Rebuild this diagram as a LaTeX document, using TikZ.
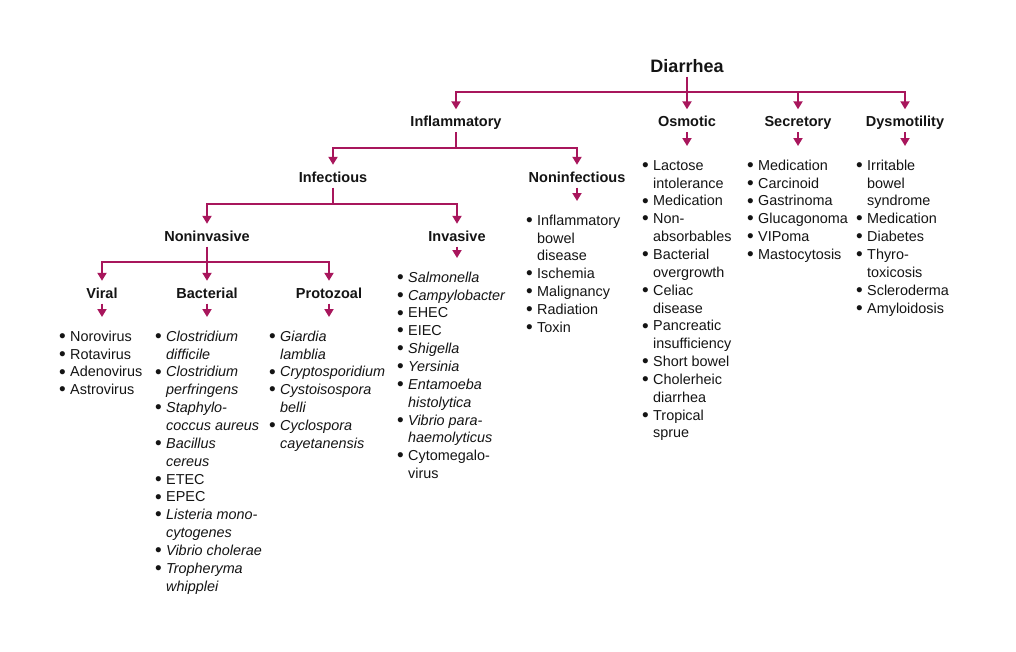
\documentclass[tikz,border=0pt]{standalone}
\usepackage{fontspec}
\setmainfont{Liberation Sans}
\usetikzlibrary{arrows.meta}
\definecolor{mag}{RGB}{168,22,92}
\definecolor{txt}{RGB}{20,20,20}
\newcommand\bl{\makebox[11pt][l]{\raisebox{-1.2pt}{\fontsize{19}{19}\selectfont\textbullet}}}
\newcommand\cl{\hspace*{11pt}}
\tikzset{
  ln/.style={draw=mag, line width=1.9pt},
  arr/.style={ln, -{Triangle[width=9pt,length=8pt]}},
  busarr/.style={arr, shorten >=6.5pt},
  listarr/.style={arr, shorten <=5.5pt, shorten >=12pt},
  up/.style={ln, shorten <=5.5pt},
  head/.style={font=\bfseries\fontsize{14.5}{17}\selectfont, text=txt, inner sep=0pt, text height=10.5pt, text depth=0pt, anchor=base},
  lst/.style={font=\fontsize{14.4}{17.85}\selectfont, text=txt, inner sep=0pt, align=left, anchor=north west}
}
\begin{document}
\begin{tikzpicture}[x=1pt,y=-1pt]
\fill[white] (0,0) rectangle (1016,651);
\useasboundingbox (0,0) rectangle (1016,651);

% headings
\node[head, font=\bfseries\fontsize{18}{21}\selectfont, text height=13pt] (dia) at (687,72.5) {Diarrhea};
\node[head] (infl) at (456,126.5) {Inflammatory};
\node[head] (osm) at (687,126.5) {Osmotic};
\node[head] (sec) at (798,126.5) {Secretory};
\node[head] (dys) at (905,126.5) {Dysmotility};
\node[head] (inf) at (333,182) {Infectious};
\node[head] (ninf) at (577,182) {Noninfectious};
\node[head] (ninv) at (207,241) {Noninvasive};
\node[head] (inv) at (457,241) {Invasive};
\node[head] (vir) at (102,298) {Viral};
\node[head] (bac) at (207,298) {Bacterial};
\node[head] (pro) at (329,298) {Protozoal};

% bus junctions
\coordinate (j0) at (687,92);
\coordinate (j1) at (456,148);
\coordinate (j2) at (333,204);
\coordinate (j3) at (207,262);

% lists
\node[lst] (osmL) at (642,158) {\rule{0pt}{12pt}\bl Lactose\\ \cl intolerance\\ \bl Medication\\ \bl Non-\\ \cl absorbables\\ \bl Bacterial\\ \cl overgrowth\\ \bl Celiac\\ \cl disease\\ \bl Pancreatic\\ \cl insufficiency\\ \bl Short bowel\\ \bl Cholerheic\\ \cl diarrhea\\ \bl Tropical\\ \cl sprue};
\node[lst] (secL) at (747,158) {\rule{0pt}{12pt}\bl Medication\\ \bl Carcinoid\\ \bl Gastrinoma\\ \bl Glucagonoma\\ \bl VIPoma\\ \bl Mastocytosis};
\node[lst] (dysL) at (856,158) {\rule{0pt}{12pt}\bl Irritable\\ \cl bowel\\ \cl syndrome\\ \bl Medication\\ \bl Diabetes\\ \bl Thyro-\\ \cl toxicosis\\ \bl Scleroderma\\ \bl Amyloidosis};
\node[lst] (ninfL) at (526,213) {\rule{0pt}{12pt}\bl Inflammatory\\ \cl bowel\\ \cl disease\\ \bl Ischemia\\ \bl Malignancy\\ \bl Radiation\\ \bl Toxin};
\node[lst] (invL) at (397,270) {\rule{0pt}{12pt}\bl \textit{Salmonella}\\ \bl \textit{Campylobacter}\\ \bl EHEC\\ \bl EIEC\\ \bl \textit{Shigella}\\ \bl \textit{Yersinia}\\ \bl \textit{Entamoeba}\\ \cl \textit{histolytica}\\ \bl \textit{Vibrio para-}\\ \cl \textit{haemolyticus}\\ \bl Cytomegalo-\\ \cl virus};
\node[lst] (virL) at (59,329) {\rule{0pt}{12pt}\bl Norovirus\\ \bl Rotavirus\\ \bl Adenovirus\\ \bl Astrovirus};
\node[lst] (bacL) at (155,329) {\rule{0pt}{12pt}\bl \textit{Clostridium}\\ \cl \textit{difficile}\\ \bl \textit{Clostridium}\\ \cl \textit{perfringens}\\ \bl \textit{Staphylo-}\\ \cl \textit{coccus aureus}\\ \bl \textit{Bacillus}\\ \cl \textit{cereus}\\ \bl ETEC\\ \bl EPEC\\ \bl \textit{Listeria mono-}\\ \cl \textit{cytogenes}\\ \bl \textit{Vibrio cholerae}\\ \bl \textit{Tropheryma}\\ \cl \textit{whipplei}};
\node[lst] (proL) at (269,329) {\rule{0pt}{12pt}\bl \textit{Giardia}\\ \cl \textit{lamblia}\\ \bl \textit{Cryptosporidium}\\ \bl \textit{Cystoisospora}\\ \cl \textit{belli}\\ \bl \textit{Cyclospora}\\ \cl \textit{cayetanensis}};

% tree connectors
\draw[up, shorten <=4pt] (dia.south) -- (j0);
\draw[busarr] (j0) -| (infl.north);
\draw[busarr] (j0) -- (osm.north);
\draw[busarr] (j0) -| (sec.north);
\draw[busarr] (j0) -| (dys.north);

\draw[up] (infl.south) -- (j1);
\draw[busarr] (j1) -| (inf.north);
\draw[busarr] (j1) -| (ninf.north);

\draw[up] (inf.south) -- (j2);
\draw[busarr] (j2) -| (ninv.north);
\draw[busarr] (j2) -| (inv.north);

\draw[up] (ninv.south) -- (j3);
\draw[busarr] (j3) -| (vir.north);
\draw[busarr] (j3) -- (bac.north);
\draw[busarr] (j3) -| (pro.north);

% heading to list
\draw[listarr] (osm.south) -- (osm.south |- osmL.north);
\draw[listarr] (sec.south) -- (sec.south |- secL.north);
\draw[listarr] (dys.south) -- (dys.south |- dysL.north);
\draw[listarr] (ninf.south) -- (ninf.south |- ninfL.north);
\draw[listarr] (inv.south) -- (inv.south |- invL.north);
\draw[listarr] (vir.south) -- (vir.south |- virL.north);
\draw[listarr] (bac.south) -- (bac.south |- bacL.north);
\draw[listarr] (pro.south) -- (pro.south |- proL.north);
\end{tikzpicture}
\end{document}
